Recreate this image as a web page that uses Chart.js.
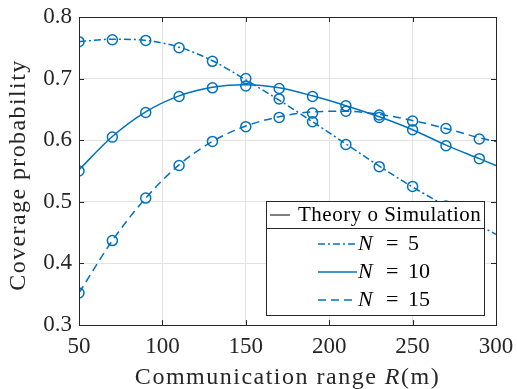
<!DOCTYPE html>
<html>
<head>
<meta charset="utf-8">
<script src="https://cdn.jsdelivr.net/npm/chart.js@4"></script>
<style>
  html, body { margin: 0; padding: 0; background: #fff; }
  #wrap { width: 517px; height: 389px; }
</style>
</head>
<body>
<div id="wrap"><canvas id="coverageChart"></canvas></div>
<script>
// simulation points
const R_SIM = [50, 70, 90, 110, 130, 150, 170, 190, 210, 230, 250, 270, 290];
const N5_SIM = [0.760, 0.763, 0.762, 0.750, 0.728, 0.700, 0.667, 0.630, 0.593, 0.557, 0.525, 0.493, 0.462];
const N10_SIM = [0.550, 0.605, 0.645, 0.671, 0.685, 0.688, 0.684, 0.671, 0.656, 0.637, 0.617, 0.591, 0.570];
const N15_SIM = [0.352, 0.437, 0.506, 0.559, 0.598, 0.622, 0.637, 0.644, 0.647, 0.641, 0.631, 0.619, 0.602];

// theory curves
const R_TH = [50, 70, 90, 110, 130, 150, 170, 190, 210, 230, 250, 270, 290, 300];
const N5_TH = [0.760, 0.764, 0.762, 0.751, 0.729, 0.698, 0.665, 0.630, 0.594, 0.558, 0.524, 0.493, 0.462, 0.447];
const N10_TH = [0.552, 0.606, 0.646, 0.672, 0.686, 0.690, 0.685, 0.672, 0.656, 0.638, 0.617, 0.592, 0.570, 0.559];
const N15_TH = [0.352, 0.437, 0.506, 0.560, 0.598, 0.623, 0.638, 0.646, 0.647, 0.642, 0.632, 0.619, 0.604, 0.598];

const X_TICKS = [50, 100, 150, 200, 250, 300];
const Y_TICKS = [0.3, 0.4, 0.5, 0.6, 0.7, 0.8];

const BLUE = "#0072BD";
const SERIF = "'Liberation Serif', 'Times New Roman', serif";
const DASH_DOT = [7, 3, 2, 3];
const DASHED = [8, 5];

function pts(xs, ys) {
    return xs.map((x, i) => ({ x: x, y: ys[i] }));
}

function theory(ys, dash) {
    return {
        data: pts(R_TH, ys),
        showLine: true,
        borderColor: BLUE,
        borderWidth: 1.5,
        borderDash: dash,
        pointRadius: 0,
        fill: false,
        cubicInterpolationMode: "monotone",
    };
}

function sim(ys) {
    return {
        data: pts(R_SIM, ys),
        showLine: false,
        borderColor: BLUE,
        backgroundColor: "rgba(0,0,0,0)",
        borderWidth: 1.5,
        pointStyle: "circle",
        pointRadius: 5,
    };
}

// frame, inward ticks, axis titles and the boxed legend
const decorations = {
    id: "decorations",
    afterDatasetsDraw(chart) {
        const ctx = chart.ctx;
        const a = chart.chartArea;
        const xs = chart.scales.x, ys = chart.scales.y;
        ctx.save();

        // legend box
        const lx = 266, ly = 201, lw = 218, lh = 114, hdr = 27;
        ctx.fillStyle = "#fff";
        ctx.fillRect(lx, ly, lw, lh);
        ctx.strokeStyle = "#262626";
        ctx.lineWidth = 1;
        ctx.strokeRect(lx + 0.5, ly + 0.5, lw, lh);
        ctx.beginPath();
        ctx.moveTo(lx, ly + hdr + 0.5);
        ctx.lineTo(lx + lw, ly + hdr + 0.5);
        ctx.stroke();

        ctx.fillStyle = "#000";
        ctx.textBaseline = "middle";
        ctx.textAlign = "left";
        ctx.beginPath();
        ctx.moveTo(270, ly + 14);
        ctx.lineTo(290, ly + 14);
        ctx.strokeStyle = "#000";
        ctx.stroke();
        ctx.font = "21px " + SERIF;
        ctx.letterSpacing = "0.5px";
        ctx.fillText("Theory o Simulation", 298, ly + 14);
        ctx.letterSpacing = "0px";

        const rows = [["5", DASH_DOT, 244], ["10", [], 272], ["15", DASHED, 300]];
        rows.forEach(r => {
            ctx.beginPath();
            ctx.setLineDash(r[1]);
            ctx.strokeStyle = BLUE;
            ctx.lineWidth = 1.5;
            ctx.moveTo(318, r[2]);
            ctx.lineTo(357, r[2]);
            ctx.stroke();
            ctx.setLineDash([]);
            ctx.fillStyle = "#000";
            ctx.font = "italic 22px " + SERIF;
            ctx.fillText("N", 358, r[2]);
            ctx.font = "22px " + SERIF;
            ctx.fillText("=", 386, r[2]);
            ctx.fillText(r[0], 408, r[2]);
        });

        // frame
        ctx.strokeStyle = "#262626";
        ctx.lineWidth = 1;
        ctx.strokeRect(Math.round(a.left) + 0.5, Math.round(a.top) + 0.5,
            Math.round(a.right - a.left), Math.round(a.bottom - a.top));

        // inward ticks
        ctx.beginPath();
        X_TICKS.forEach(v => {
            const p = Math.round(xs.getPixelForValue(v)) + 0.5;
            ctx.moveTo(p, a.bottom); ctx.lineTo(p, a.bottom - 5);
            ctx.moveTo(p, a.top); ctx.lineTo(p, a.top + 5);
        });
        Y_TICKS.forEach(v => {
            const p = Math.round(ys.getPixelForValue(v)) + 0.5;
            ctx.moveTo(a.left, p); ctx.lineTo(a.left + 5, p);
            ctx.moveTo(a.right, p); ctx.lineTo(a.right - 5, p);
        });
        ctx.stroke();

        // x axis title with italic R
        ctx.fillStyle = "#262626";
        ctx.textBaseline = "alphabetic";
        ctx.letterSpacing = "1.5px";
        ctx.font = "24px " + SERIF;
        const t1 = "Communication range ", t3 = "(m)";
        const w1 = ctx.measureText(t1).width, w3 = ctx.measureText(t3).width;
        ctx.font = "italic 24px " + SERIF;
        const w2 = ctx.measureText("R").width;
        let sx = (a.left + a.right) / 2 - (w1 + w2 + w3) / 2;
        const by = 384;
        ctx.font = "24px " + SERIF;
        ctx.fillText(t1, sx, by);
        ctx.font = "italic 24px " + SERIF;
        ctx.fillText("R", sx + w1, by);
        ctx.font = "24px " + SERIF;
        ctx.fillText(t3, sx + w1 + w2, by);

        // y axis title
        ctx.letterSpacing = "1.4px";
        ctx.translate(19, 175);
        ctx.rotate(-Math.PI / 2);
        ctx.textAlign = "center";
        ctx.textBaseline = "middle";
        ctx.fillText("Coverage probability", 0, 0);

        ctx.restore();
    }
};

const ctxCov = document.getElementById("coverageChart").getContext("2d");
window.coverageChart = new Chart(ctxCov, {
    type: "scatter",
    data: {
        datasets: [
            theory(N5_TH, DASH_DOT),
            theory(N10_TH, []),
            theory(N15_TH, DASHED),
            sim(N5_SIM),
            sim(N10_SIM),
            sim(N15_SIM),
        ],
    },
    options: {
        responsive: true,
        maintainAspectRatio: false,
        animation: false,
        layout: { padding: { top: 17, right: 21, left: 0, bottom: 0 } },
        plugins: { legend: { display: false }, tooltip: { enabled: false } },
        scales: {
            x: {
                type: "linear",
                min: 50,
                max: 300,
                afterBuildTicks: s => { s.ticks = X_TICKS.map(v => ({ value: v })); },
                afterFit: s => { s.height = 64; s.paddingLeft = 0; s.paddingRight = 0; },
                grid: { color: "#e3e3e3", drawTicks: false },
                border: { display: false },
                ticks: {
                    padding: 8,
                    color: "#262626",
                    font: { family: SERIF, size: 23 },
                },
            },
            y: {
                min: 0.3,
                max: 0.8,
                afterBuildTicks: s => { s.ticks = Y_TICKS.map(v => ({ value: v })); },
                afterFit: s => { s.width = 79; s.paddingTop = 0; s.paddingBottom = 0; },
                grid: { color: "#e3e3e3", drawTicks: false },
                border: { display: false },
                ticks: {
                    padding: 7,
                    color: "#262626",
                    font: { family: SERIF, size: 23 },
                    callback: v => v.toFixed(1),
                },
            },
        },
    },
    plugins: [decorations],
});
</script>
</body>
</html>
